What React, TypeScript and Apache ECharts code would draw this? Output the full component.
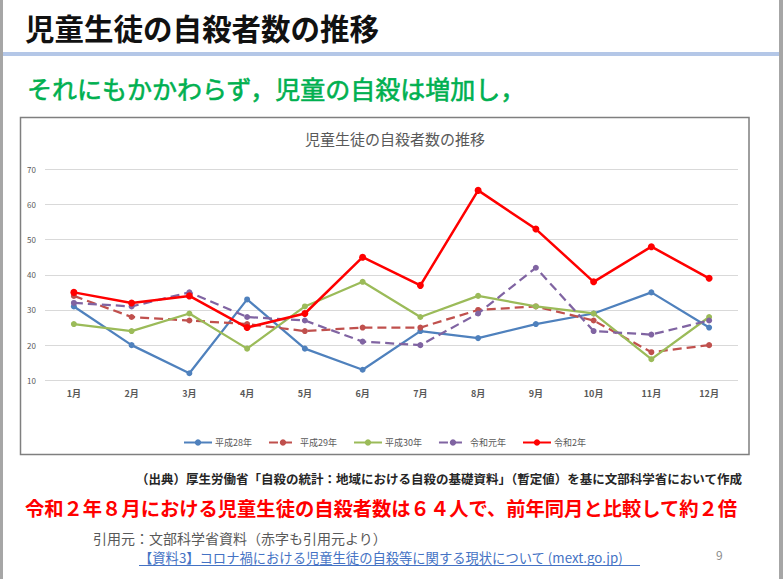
import React, { useEffect, useRef } from "react";
import * as echarts from "echarts";

const months = ["1月", "2月", "3月", "4月", "5月", "6月", "7月", "8月", "9月", "10月", "11月", "12月"];
const seriesNames = ["平成28年", "平成29年", "平成30年", "令和元年", "令和2年"];
const h28 = [31, 20, 12, 33, 19, 13, 24, 22, 26, 29, 35, 25];
const h29 = [34, 28, 27, 26, 24, 25, 25, 30, 31, 27, 18, 20];
const h30 = [26, 24, 29, 19, 31, 38, 28, 34, 31, 29, 16, 28];
const r1 = [32, 31, 35, 28, 27, 21, 20, 29, 42, 24, 23, 27];
const r2 = [35, 32, 34, 25, 29, 45, 37, 64, 53, 38, 48, 39];
const yMin = 10;
const yMax = 70;
const yStep = 10;

const pageTitle = "児童生徒の自殺者数の推移";
const subTitle = "それにもかかわらず，児童の自殺は増加し，";
const chartTitle = "児童生徒の自殺者数の推移";
const sourceText = "（出典）厚生労働省「自殺の統計：地域における自殺の基礎資料」（暫定値）を基に文部科学省において作成";
const redText = "令和２年８月における児童生徒の自殺者数は６４人で、前年同月と比較して約２倍";
const citeText = "引用元：文部科学省資料（赤字も引用元より）";
const linkText = "【資料3】コロナ禍における児童生徒の自殺等に関する現状について (mext.go.jp)";
const pageNo = "9";

const FONT = '"Noto Sans CJK JP", "Noto Sans", sans-serif';

export default function App() {
  const ref = useRef<HTMLDivElement>(null);
  useEffect(() => {
    if (!ref.current) return;
    const chart = echarts.init(ref.current, null, { renderer: "svg" });
    const colors = ["#4f81bd", "#c0504d", "#9bbb59", "#8064a2", "#ff0000"];
    const data = [h28, h29, h30, r1, r2];
    const dashed = [false, true, false, true, false];
    const series = seriesNames.map((name, i) => ({
      name,
      type: "line",
      data: data[i],
      symbol: "circle",
      symbolSize: i === 4 ? 7 : 6,
      itemStyle: { color: colors[i] },
      lineStyle: {
        color: colors[i],
        width: i === 4 ? 2.5 : 2.25,
        type: dashed[i] ? [9, 5] : "solid",
      },
      z: 2 + i,
    }));

    chart.setOption({
      animation: false,
      backgroundColor: "#ffffff",
      textStyle: { fontFamily: FONT },
      title: {
        text: chartTitle,
        left: 390,
        textAlign: "center",
        top: 126,
        textStyle: { fontFamily: FONT, fontSize: 15, fontWeight: "normal", color: "#595959" },
      },
      legend: {
        left: 178,
        top: 433,
        itemWidth: 28,
        itemHeight: 8,
        itemGap: 16,
        textStyle: { fontFamily: FONT, fontSize: 9, color: "#595959", padding: [0, 0, 0, -2] },
        data: seriesNames,
      },
      grid: { left: 45, right: 45, top: 169.3, bottom: 198.7, containLabel: false },
      xAxis: {
        type: "category",
        data: months,
        boundaryGap: true,
        axisLine: { show: false },
        axisTick: { show: false },
        axisLabel: { fontFamily: FONT, fontSize: 9, fontWeight: "bold", color: "#595959", margin: 9 },
      },
      yAxis: {
        type: "value",
        min: yMin,
        max: yMax,
        interval: yStep,
        axisLine: { show: false },
        axisTick: { show: false },
        axisLabel: { fontFamily: FONT, fontSize: 8, color: "#595959", margin: 9 },
        splitLine: { lineStyle: { color: "#d9d9d9", width: 1 } },
      },
      series,
      graphic: [
        { type: "rect", shape: { x: 0, y: 0, width: 3, height: 579 }, style: { fill: "#a6a6a6" }, z: 100 },
        { type: "rect", shape: { x: 779, y: 0, width: 4, height: 579 }, style: { fill: "#a6a6a6" }, z: 100 },
        { type: "rect", shape: { x: 3, y: 52, width: 776, height: 4 }, style: { fill: "#b4c7e7" }, z: 100 },
        {
          type: "text",
          x: 25,
          y: 27,
          style: { text: pageTitle, fontFamily: FONT, fontSize: 29.5, fontWeight: "bold", fill: "#111111", verticalAlign: "middle" },
          z: 100,
        },
        {
          type: "text",
          x: 27,
          y: 88,
          style: { text: subTitle, fontFamily: FONT, fontSize: 25, fontWeight: "normal", fill: "#00b050", stroke: "#00b050", lineWidth: 0.6, verticalAlign: "middle" },
          z: 100,
        },
        {
          type: "rect",
          shape: { x: 20.5, y: 117.5, width: 728.5, height: 337 },
          style: { fill: "none", stroke: "#7f7f7f", lineWidth: 1.5 },
          z: 100,
        },
        {
          type: "text",
          x: 742,
          y: 478,
          style: { text: sourceText, fontFamily: FONT, fontSize: 12.5, fontWeight: "bold", fill: "#262626", align: "right", verticalAlign: "middle" },
          z: 100,
        },
        {
          type: "text",
          x: 25,
          y: 508,
          style: { text: redText, fontFamily: FONT, fontSize: 19.3, fontWeight: "bold", fill: "#ff0000", verticalAlign: "middle" },
          z: 100,
        },
        {
          type: "text",
          x: 93,
          y: 538,
          style: { text: citeText, fontFamily: FONT, fontSize: 14, fill: "#595959", verticalAlign: "middle" },
          z: 100,
        },
        {
          type: "text",
          x: 139,
          y: 557,
          style: { text: linkText, fontFamily: FONT, fontSize: 13.3, fill: "#4472c4", verticalAlign: "middle" },
          z: 100,
        },
        {
          type: "line",
          shape: { x1: 139, y1: 565.5, x2: 640, y2: 565.5 },
          style: { stroke: "#4472c4", lineWidth: 1 },
          z: 100,
        },
        {
          type: "text",
          x: 716,
          y: 554,
          style: { text: pageNo, fontFamily: FONT, fontSize: 12, fill: "#8c8c8c", verticalAlign: "middle" },
          z: 100,
        },
      ],
    });
    return () => chart.dispose();
  }, []);
  return (
    <div
      ref={ref}
      style={{ position: "fixed", left: 0, top: 0, width: 783, height: 579, background: "#fff" }}
    />
  );
}
